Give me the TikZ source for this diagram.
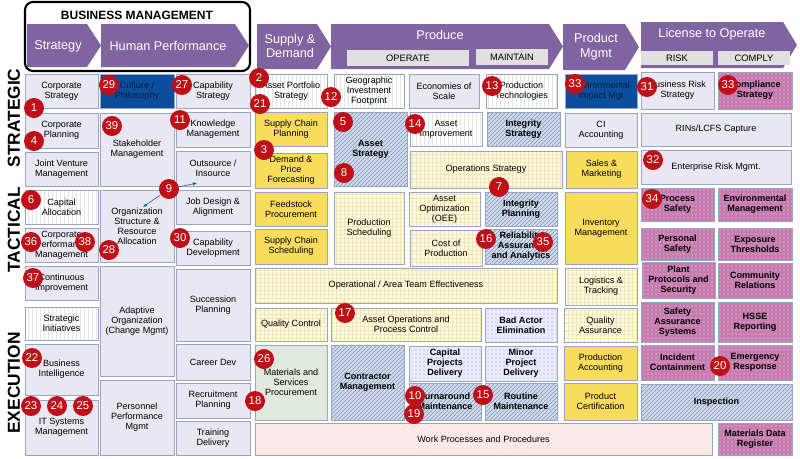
\documentclass[tikz,border=0pt]{standalone}
\usepackage{fontspec}
\setmainfont{Liberation Sans}
\usetikzlibrary{patterns,arrows.meta}

\definecolor{purp}{HTML}{8064A2}
\definecolor{lav}{HTML}{E9E7F1}
\definecolor{edge}{HTML}{98A4C4}
\definecolor{yel}{HTML}{F9DC5C}
\definecolor{navy}{HTML}{0B4F9C}
\definecolor{pink}{HTML}{C77BB0}
\definecolor{sage}{HTML}{E1E8DD}
\definecolor{badgered}{HTML}{C00F16}
\definecolor{cream}{HTML}{FFFCEB}
\definecolor{gridline}{HTML}{F2E6B0}

\tikzset{
  cell/.style={draw=edge, fill=lav, inner sep=1pt, outer sep=0pt, align=center,
    font=\fontsize{6.8}{7.6}\selectfont},
  yellow/.style={fill=yel, draw=edge},
  grid/.style={preaction={fill=cream}, pattern=grid, pattern color=gridline},
  vlines/.style={preaction={fill=white}, pattern=vertical lines, pattern color=black!10},
  hatch/.style={preaction={fill=edge!40}, pattern=north east lines, pattern color=navy!60,
    font=\fontsize{6.8}{7.6}\selectfont\bfseries},
  bluedot/.style={preaction={fill=blue!8}, pattern=dots, pattern color=blue!40,
    font=\fontsize{6.8}{7.6}\selectfont\bfseries},
  pinkdot/.style={preaction={fill=pink}, pattern=dots, pattern color=white!70!pink,
    font=\fontsize{6.8}{7.6}\selectfont\bfseries},
  salmon/.style={preaction={fill=red!4}, pattern=north east lines, pattern color=red!22},
  darkblue/.style={fill=navy, text=navy!40!black},
  green/.style={fill=sage},
  badge/.style={circle, fill=badgered, text=white, inner sep=0pt, minimum size=15pt,
    font=\fontsize{8.5}{9}\selectfont},
  headtext/.style={text=white, font=\fontsize{9.5}{11}\selectfont, align=center},
  sub/.style={fill=black!12, draw=none, inner sep=0pt, font=\fontsize{7}{8}\selectfont},
  rowlabel/.style={rotate=90, font=\fontsize{13}{14}\selectfont\bfseries},
}

% cell macro: name, x1, y1, x2, y2, style, text
\newcommand\bx[7]{\node[cell,#6,minimum width={(#4-#2)*0.75pt},minimum height={(#5-#3)*0.75pt}]
  (#1) at ({(#2+#4)/2},{(#3+#5)/2}) {#7};}
% banner arrow: x1, y1, x2, y2
\newcommand\banner[4]{\fill[purp] (#1,#2) -- ({#3-14},#2) -- (#3,{(#2+#4)/2}) -- ({#3-14},#4) -- (#1,#4) -- cycle;}

\begin{document}
\begin{tikzpicture}[x=0.75pt,y=-0.75pt]
  \useasboundingbox (0,0) rectangle (800,458);

  % headers
  \draw[line width=1.6pt, rounded corners=6pt] (25,2) rectangle (250,71);
  \node[font=\fontsize{9}{10}\selectfont\bfseries] (bm) at (137,15) {BUSINESS MANAGEMENT};
  \banner{27}{24}{101}{67}
  \banner{101}{24}{249}{67}
  \node[headtext] (hstr) at (58,46) {Strategy};
  \node[headtext] (hhp) at (168,46) {Human Performance};
  \banner{257}{24}{331}{69}
  \node[headtext] (hsd) at (290,46) {Supply \&\\Demand};
  \banner{331}{24}{563}{69}
  \node[headtext] (hpr) at (440,35) {Produce};
  \node[sub, minimum width=91pt, minimum height=12pt] (hop) at (408,58) {OPERATE};
  \node[sub, minimum width=54pt, minimum height=12pt] (hma) at (512,57) {MAINTAIN};
  \banner{563}{24}{639}{70}
  \node[headtext] (hpm) at (596,47) {Product\\Mgmt};
  \banner{641}{22}{797}{68}
  \node[headtext] (hlo) at (712,34) {License to Operate};
  \node[sub, minimum width=54pt, minimum height=11pt] (hri) at (677,58) {RISK};
  \node[sub, minimum width=54pt, minimum height=11pt] (hco) at (754,58) {COMPLY};

  \node[rowlabel] (rs) at (14,118) {STRATEGIC};
  \node[rowlabel] (rt) at (14,230) {TACTICAL};
  \node[rowlabel] (re) at (14,383) {EXECUTION};

  % strategy
  \bx{cs}{25}{74}{98}{108}{}{Corporate\\Strategy}
  \bx{cp}{25}{113}{98}{148}{}{Corporate\\Planning}
  \bx{jv}{25}{152}{98}{186}{}{Joint Venture\\Management}
  \bx{ca}{25}{190}{98}{224}{vlines}{Capital\\Allocation}
  \bx{cpm}{25}{228}{98}{262}{}{Corporate\\Performance\\Management}
  \bx{ci}{25}{266}{98}{300}{}{Continuous\\Improvement}
  \bx{si}{25}{307}{98}{340}{vlines}{Strategic\\Initiatives}
  \bx{bi}{25}{344}{98}{395}{}{Business\\Intelligence}
  \bx{it}{25}{400}{98}{455}{}{IT Systems\\Management}

  % human performance
  \bx{cul}{100}{74}{174}{108}{darkblue}{Culture /\\Philosophy}
  \bx{stk}{100}{113}{174}{186}{}{Stakeholder\\Management}
  \bx{org}{100}{190}{174}{262}{}{Organization\\Structure \&\\Resource\\Allocation}
  \bx{ado}{100}{266}{174}{376}{}{Adaptive\\Organization\\(Change Mgmt)}
  \bx{ppm}{100}{380}{174}{455}{}{Personnel\\Performance\\Mgmt}
  \bx{cap}{176}{74}{250}{108}{}{Capability\\Strategy}
  \bx{km}{176}{112}{250}{147}{}{Knowledge\\Management}
  \bx{oi}{176}{151}{250}{186}{}{Outsource /\\Insource}
  \bx{jd}{176}{190}{250}{224}{}{Job Design \&\\Alignment}
  \bx{cd}{176}{231}{250}{265}{}{Capability\\Development}
  \bx{sp}{176}{269}{250}{341}{}{Succession\\Planning}
  \bx{cdv}{176}{344}{250}{380}{}{Career Dev}
  \bx{rp}{176}{383}{250}{418}{}{Recruitment\\Planning}
  \bx{td}{176}{421}{250}{455}{}{Training\\Delivery}

  % supply & demand, produce
  \bx{aps}{255}{74}{327}{108}{vlines}{Asset Portfolio\\Strategy}
  \bx{scp}{255}{112}{327}{146}{yellow}{Supply Chain\\Planning}
  \bx{dpf}{255}{153}{327}{188}{yellow}{Demand \&\\Price\\Forecasting}
  \bx{fp}{255}{192}{327}{226}{yellow}{Feedstock\\Procurement}
  \bx{scs}{255}{229}{327}{264}{yellow}{Supply Chain\\Scheduling}
  \bx{oat}{255}{268}{557}{303}{grid}{Operational / Area Team Effectiveness}
  \bx{qc}{255}{308}{327}{341}{grid}{Quality Control}
  \bx{msp}{255}{345}{327}{420}{green}{Materials and\\Services\\Procurement}
  \bx{wpp}{255}{423}{712}{455}{salmon}{Work Processes and Procedures}
  \bx{gif}{334}{74}{404}{108}{vlines}{Geographic\\Investment\\Footprint}
  \bx{as}{334}{112}{407}{186}{hatch}{Asset\\Strategy}
  \bx{ps}{334}{192}{404}{264}{grid}{Production\\Scheduling}
  \bx{aop}{331}{308}{481}{341}{grid}{Asset Operations and\\Process Control}
  \bx{cm}{331}{345}{404}{420}{hatch}{Contractor\\Management}
  \bx{eos}{409}{74}{479}{108}{}{Economies of\\Scale}
  \bx{ai}{410}{112}{482}{146}{vlines}{Asset\\Improvement}
  \bx{ops}{410}{151}{562}{188}{grid}{Operations Strategy}
  \bx{oee}{409}{192}{480}{226}{grid}{Asset\\Optimization\\(OEE)}
  \bx{cop}{410}{230}{482}{266}{grid}{Cost of\\Production}
  \bx{cpd}{409}{346}{481}{381}{bluedot}{Capital\\Projects\\Delivery}
  \bx{tm}{409}{383}{481}{420}{hatch}{Turnaround\\Maintenance}
  \bx{pt}{486}{74}{557}{108}{vlines}{Production\\Technologies}
  \bx{is}{487}{112}{560}{146}{hatch}{Integrity\\Strategy}
  \bx{ip}{485}{192}{557}{226}{hatch}{Integrity\\Planning}
  \bx{raa}{485}{229}{557}{264}{hatch}{Reliability\\Assurance\\and Analytics}
  \bx{bae}{485}{308}{557}{342}{bluedot}{Bad Actor\\Elimination}
  \bx{mpd}{485}{346}{557}{381}{bluedot}{Minor\\Project\\Delivery}
  \bx{rm}{485}{383}{557}{420}{hatch}{Routine\\Maintenance}

  % product mgmt
  \bx{eim}{565}{74}{637}{108}{darkblue}{Environmental\\Impact Mgt}
  \bx{cia}{565}{113}{637}{147}{}{CI\\Accounting}
  \bx{sm}{566}{151}{637}{188}{yellow}{Sales \&\\Marketing}
  \bx{im}{565}{192}{637}{264}{yellow}{Inventory\\Management}
  \bx{lt}{565}{268}{637}{305}{grid}{Logistics \&\\Tracking}
  \bx{qa}{564}{308}{637}{342}{grid}{Quality\\Assurance}
  \bx{pa}{564}{346}{637}{380}{yellow}{Production\\Accounting}
  \bx{pc}{564}{383}{637}{420}{yellow}{Product\\Certification}

  % license to operate
  \bx{brs}{641}{72}{714}{109}{}{Business Risk\\Strategy}
  \bx{cst}{718}{72}{792}{109}{pinkdot}{Compliance\\Strategy}
  \bx{rins}{641}{113}{791}{146}{}{RINs/LCFS Capture}
  \bx{erm}{641}{150}{791}{184}{}{Enterprise Risk Mgmt.}
  \bx{prs}{641}{188}{714}{221}{pinkdot}{Process\\Safety}
  \bx{env}{718}{188}{792}{221}{pinkdot}{Environmental\\Management}
  \bx{pes}{641}{228}{714}{260}{pinkdot}{Personal\\Safety}
  \bx{ext}{718}{228}{792}{260}{pinkdot}{Exposure\\Thresholds}
  \bx{pps}{642}{262}{715}{298}{pinkdot}{Plant\\Protocols and\\Security}
  \bx{cr}{718}{263}{792}{298}{pinkdot}{Community\\Relations}
  \bx{sas}{641}{302}{714}{342}{pinkdot}{Safety\\Assurance\\Systems}
  \bx{hsse}{718}{302}{792}{342}{pinkdot}{HSSE\\Reporting}
  \bx{ic}{641}{345}{714}{380}{pinkdot}{Incident\\Containment}
  \bx{er}{718}{345}{792}{380}{pinkdot}{Emergency\\Response}
  \bx{insp}{641}{384}{792}{420}{hatch}{Inspection}
  \bx{mdr}{718}{423}{792}{455}{pinkdot}{Materials Data\\Register}

  % badges
  \node[badge] (b29) at (109,85) {29};
  \node[badge] (b27) at (182,85) {27};
  \node[badge] (b1) at (34,108) {1};
  \node[badge] (b4) at (34,141) {4};
  \node[badge] (b39) at (112,126) {39};
  \node[badge] (b11) at (180,120) {11};
  \node[badge] (b9) at (169,189) {9};
  \node[badge] (b6) at (31,200) {6};
  \node[badge] (b36) at (31,242) {36};
  \node[badge] (b38) at (85,242) {38};
  \node[badge] (b28) at (109,250) {28};
  \node[badge] (b30) at (180,238) {30};
  \node[badge] (b37) at (33,278) {37};
  \node[badge] (b22) at (32,358) {22};
  \node[badge] (b23) at (31,406) {23};
  \node[badge] (b24) at (57,406) {24};
  \node[badge] (b25) at (83,406) {25};
  \node[badge] (b2) at (259,78) {2};
  \node[badge] (b21) at (260,104) {21};
  \node[badge] (b3) at (264,150) {3};
  \node[badge] (b12) at (331,97) {12};
  \node[badge] (b5) at (343,122) {5};
  \node[badge] (b8) at (344,173) {8};
  \node[badge] (b13) at (492,86) {13};
  \node[badge] (b14) at (415,124) {14};
  \node[badge] (b7) at (499,187) {7};
  \node[badge] (b16) at (486,239) {16};
  \node[badge] (b35) at (543,242) {35};
  \node[badge] (b17) at (345,313) {17};
  \node[badge] (b26) at (264,359) {26};
  \node[badge] (b18) at (255,401) {18};
  \node[badge] (b10) at (415,396) {10};
  \node[badge] (b19) at (414,414) {19};
  \node[badge] (b15) at (483,395) {15};
  \node[badge] (b33a) at (575,84) {33};
  \node[badge] (b31) at (647,87) {31};
  \node[badge] (b33b) at (728,85) {33};
  \node[badge] (b32) at (653,160) {32};
  \node[badge] (b34) at (652,199) {34};
  \node[badge] (b20) at (720,366) {20};

  % links from 9
  \coordinate (t9a) at (197,183);
  \coordinate (t9b) at (143,207);
  \draw[navy, -{Latex[length=3pt]}] (b9) -- (t9a);
  \draw[navy, -{Latex[length=3pt]}] (b9) -- (t9b);
\end{tikzpicture}
\end{document}
